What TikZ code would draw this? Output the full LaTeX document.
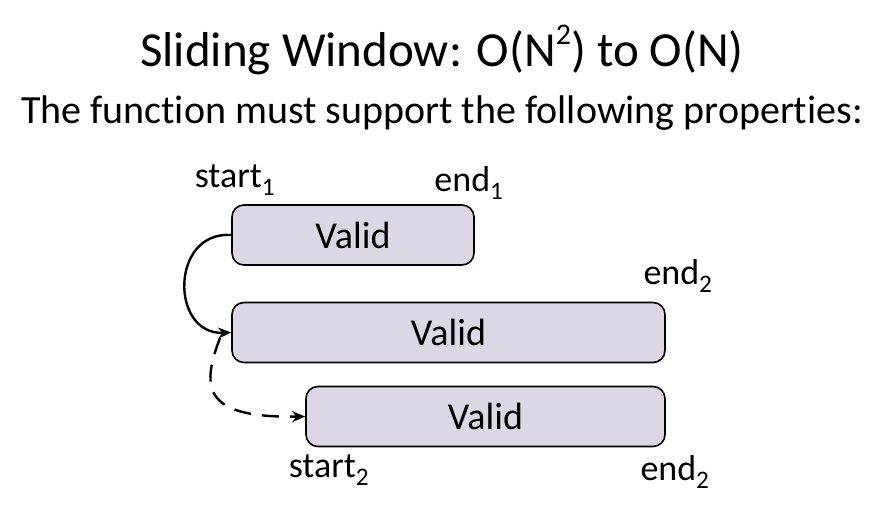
\documentclass[tikz,border=0pt]{standalone}
\usepackage{fontspec}
\setmainfont{Carlito}[Ligatures={NoCommon}]
\usetikzlibrary{positioning,arrows.meta}
\definecolor{boxfill}{RGB}{221,215,229}

\begin{document}
\begin{tikzpicture}[x=1pt,y=-1pt,
	validbox/.style={draw=black, fill=boxfill, rounded corners=12pt, line width=1.6pt, minimum height=60pt, inner sep=0pt, font=\fontsize{38}{44}\selectfont},
	tag/.style={inner sep=0pt, font=\fontsize{36}{42}\selectfont},
	flow/.style={-{Stealth[length=13pt,width=11pt]}, line width=2.4pt},
	]
	\useasboundingbox (0,0) rectangle (884,518);
	%Text
	\node[font=\fontsize{49}{58}\selectfont] (title) at (442,50) {Sliding Window: O(N\raisebox{0.43em}{\fontsize{30}{30}\selectfont 2}) to O(N)};
	\node[font=\fontsize{40}{48}\selectfont] (sub) at (442,113) {The function must support the following properties:};
	
	%Boxes
	\node[validbox, minimum width=242pt] (b1) at (353,235) {Valid};
	\node[validbox, minimum width=433pt] (b2) at (448.5,332.5) {Valid};
	\node[validbox, minimum width=359pt] (b3) at (485.5,416.5) {Valid};
	
	%Labels
	\node[tag] (s1) at (235,180) {start\textsubscript{1}};
	\node[tag] (e1) at (469,183) {end\textsubscript{1}};
	\node[tag] (e2) at (678,276) {end\textsubscript{2}};
	\node[tag] (s2) at (329,470) {start\textsubscript{2}};
	\node[tag] (e3) at (675,472) {end\textsubscript{2}};
	
	%Lines
	\coordinate (d0) at (220,338);
	\draw[flow] (b1.west) .. controls (170,231) and (170,335) .. (b2.west);
	\draw[flow, dash pattern=on 17pt off 11pt] (d0) .. controls (200,390) and (205,418) .. (b3.west);
\end{tikzpicture}
\end{document}
